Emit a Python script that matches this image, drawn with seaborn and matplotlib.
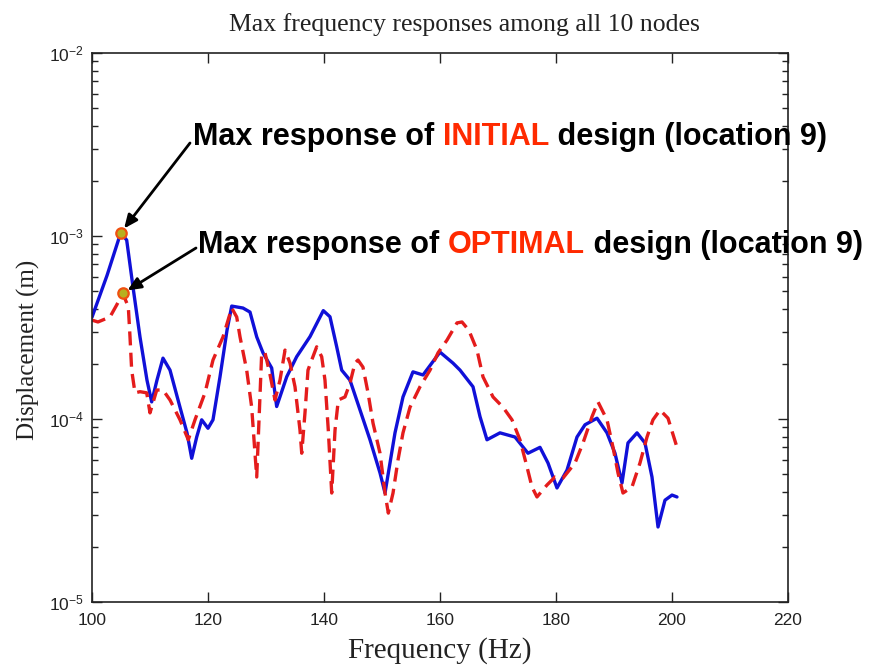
import numpy as np
import pandas as pd
import matplotlib
matplotlib.use("Agg")
import matplotlib.pyplot as plt
import matplotlib.ticker as mticker
import seaborn as sns

# Frequency response envelopes (max over the 10 nodes)
freq_initial = [100.0, 102.6, 104.95, 105.98, 107.07, 108.28, 109.48, 110.29, 111.2, 112.24,
                113.45, 115.17, 116.38, 117.19, 118.05, 118.91, 120.0, 120.86, 122.07, 123.28,
                124.09, 126.03, 127.24, 128.40, 129.48, 130.98, 131.84, 133.57, 135.29, 137.59,
                139.88, 141.03, 142.19, 143.05, 144.48, 146.21, 147.93, 149.66, 150.52, 152.24,
                153.62, 155.34, 157.07, 160.0, 162.24, 163.45, 165.69, 166.90, 168.10, 170.34,
                172.93, 175.17, 177.24, 178.62, 180.17, 181.90, 183.62, 185.0, 187.07, 188.79,
                190.17, 191.38, 192.41, 193.97, 195.34, 196.55, 197.59, 198.79, 200.0, 200.86]
disp_initial = [3.6e-4, 6.1e-4, 1.04e-3, 9.5e-4, 5.26e-4, 2.80e-4, 1.63e-4, 1.24e-4, 1.63e-4, 2.15e-4,
                1.85e-4, 1.16e-4, 8.4e-5, 6.1e-5, 7.97e-5, 9.9e-5, 8.9e-5, 9.9e-5, 1.70e-4, 3.06e-4,
                4.14e-4, 4.04e-4, 3.84e-4, 2.81e-4, 2.30e-4, 1.90e-4, 1.17e-4, 1.70e-4, 2.19e-4, 2.82e-4,
                3.91e-4, 3.62e-4, 2.48e-4, 1.85e-4, 1.63e-4, 1.12e-4, 7.7e-5, 5.07e-5, 3.94e-5, 8.4e-5,
                1.32e-4, 1.81e-4, 1.74e-4, 2.32e-4, 2.02e-4, 1.85e-4, 1.50e-4, 1.03e-4, 7.7e-5, 8.4e-5,
                7.97e-5, 6.5e-5, 7.0e-5, 5.75e-5, 4.2e-5, 5.26e-5, 7.97e-5, 9.3e-5, 1.01e-4, 8.4e-5,
                6.5e-5, 4.47e-5, 7.4e-5, 8.4e-5, 7.4e-5, 4.82e-5, 2.57e-5, 3.6e-5, 3.84e-5, 3.75e-5]

freq_optimal = [100.0, 101.03, 103.10, 104.26, 105.29, 106.26, 106.55, 106.84, 107.41, 108.28,
                109.43, 110.0, 111.16, 112.24, 113.45, 115.17, 116.60, 117.76, 119.48, 120.86,
                122.59, 124.09, 124.95, 125.52, 126.67, 127.53, 128.10, 128.40, 129.26, 129.83,
                130.69, 131.55, 132.41, 133.28, 134.14, 135.0, 135.86, 136.16, 136.72, 137.24,
                137.88, 138.74, 139.60, 140.17, 140.74, 141.33, 141.90, 142.47, 143.62, 144.48,
                145.34, 145.86, 146.72, 147.59, 148.45, 149.66, 150.52, 151.09, 151.90, 152.76,
                153.62, 154.83, 156.55, 158.28, 159.66, 161.21, 162.93, 163.79, 164.66, 165.17,
                166.38, 167.41, 169.14, 170.86, 172.41, 173.79, 175.0, 175.86, 176.72, 178.45,
                179.83, 181.21, 183.28, 184.66, 186.21, 187.24, 188.79, 189.83, 190.69, 191.55,
                193.10, 194.48, 195.69, 196.72, 197.93, 199.31, 200.86]
disp_optimal = [3.47e-4, 3.39e-4, 3.61e-4, 4.20e-4, 4.86e-4, 4.11e-4, 2.82e-4, 1.85e-4, 1.39e-4, 1.41e-4,
                1.39e-4, 1.08e-4, 1.44e-4, 1.44e-4, 1.27e-4, 9.9e-5, 7.7e-5, 9.9e-5, 1.39e-4, 2.10e-4,
                2.81e-4, 4.04e-4, 3.61e-4, 2.81e-4, 1.85e-4, 1.16e-4, 6.5e-5, 4.82e-5, 2.30e-4, 2.30e-4,
                1.75e-4, 1.27e-4, 1.63e-4, 2.38e-4, 2.02e-4, 1.50e-4, 8.7e-5, 6.5e-5, 1.08e-4, 1.85e-4,
                2.10e-4, 2.48e-4, 2.19e-4, 1.63e-4, 8.7e-5, 3.94e-5, 8.7e-5, 1.27e-4, 1.32e-4, 1.57e-4,
                2.02e-4, 2.10e-4, 1.92e-4, 1.39e-4, 9.5e-5, 6.5e-5, 3.94e-5, 3.06e-5, 3.94e-5, 5.97e-5,
                8.4e-5, 1.16e-4, 1.50e-4, 1.85e-4, 2.30e-4, 2.70e-4, 3.35e-4, 3.39e-4, 3.14e-4, 2.95e-4,
                2.38e-4, 1.70e-4, 1.32e-4, 1.16e-4, 9.9e-5, 7.7e-5, 5.47e-5, 4.25e-5, 3.75e-5, 4.36e-5,
                4.82e-5, 4.76e-5, 5.75e-5, 7.4e-5, 1.03e-4, 1.24e-4, 9.9e-5, 7.0e-5, 5.07e-5, 3.94e-5,
                4.25e-5, 5.75e-5, 7.97e-5, 9.9e-5, 1.12e-4, 1.01e-4, 7.0e-5]

title_text = "Max frequency responses among all 10 nodes"
xlabel_text = "Frequency (Hz)"
ylabel_text = "Displacement (m)"
note_initial = ("Max response of ", "INITIAL", " design (location 9)")
note_optimal = ("Max response of ", "OPTIMAL", " design (location 9)")

sns.set_style("white")
plt.rcParams["font.family"] = ["Liberation Sans", "DejaVu Sans"]
plt.rcParams["mathtext.fontset"] = "custom"
plt.rcParams["mathtext.rm"] = "Liberation Sans"
plt.rcParams["mathtext.default"] = "regular"

W, H = 872, 669
fig = plt.figure(figsize=(W / 100, H / 100), dpi=100)
ax = fig.add_axes([92 / W, 1 - 602 / H, (788 - 92) / W, (602 - 53) / H])

blue = "#1010d8"
red = "#e41c1c"
ink = "#222222"

df_i = pd.DataFrame({"f": freq_initial, "d": disp_initial})
df_o = pd.DataFrame({"f": freq_optimal, "d": disp_optimal})
sns.lineplot(data=df_i, x="f", y="d", ax=ax, color=blue, linewidth=2.4,
             estimator=None, sort=False)
sns.lineplot(data=df_o, x="f", y="d", ax=ax, color=red, linewidth=2.4,
             estimator=None, sort=False, linestyle=(0, (4.2, 2.2)))

ax.set_yscale("log")
ax.set_xlim(100, 220)
ax.set_ylim(1e-5, 1e-2)
ax.set_xticks(np.arange(100, 221, 20))
ax.yaxis.set_major_locator(mticker.LogLocator(base=10, numticks=10))
ax.yaxis.set_minor_locator(mticker.LogLocator(base=10, subs=np.arange(2, 10), numticks=20))
ax.yaxis.set_major_formatter(mticker.LogFormatterSciNotation())
ax.yaxis.set_minor_formatter(mticker.NullFormatter())
ax.tick_params(which="both", direction="in", left=True, bottom=True, top=True, right=True,
               color=ink, labelsize=12.5, labelcolor=ink)
ax.tick_params(axis="x", pad=8)
ax.tick_params(axis="y", pad=6)
ax.tick_params(which="major", length=7, width=1)
ax.tick_params(which="minor", length=4, width=1)
for s in ax.spines.values():
    s.set_color(ink)
    s.set_linewidth(1.2)
ax.set_xlabel(xlabel_text, family="Liberation Serif", fontsize=21, color=ink)
ax.xaxis.set_label_coords(0.5, -0.064)
ax.set_ylabel(ylabel_text, family="Liberation Serif", fontsize=18, color=ink)
ax.yaxis.set_label_coords(-0.075, 0.46)
ax.set_title(title_text, family="Liberation Serif", fontsize=18.5, color=ink,
             x=0.535, y=1.0, pad=16)

# Peak markers taken from each series
for fr, dp in ((freq_initial, disp_initial), (freq_optimal, disp_optimal)):
    k = int(np.argmax(dp))
    ax.plot(fr[k], dp[k], "o", ms=7.5, mfc="#b8b020", mec="#f05010", mew=1.6, zorder=5)

k_i = int(np.argmax(disp_initial))
k_o = int(np.argmax(disp_optimal))


def coloured_line(x_px, y_px, parts):
    """Write a bold line whose middle word is highlighted in red."""
    colors = ["black", "#ff2a00", "black"]
    t = fig.text(x_px / W, 1 - y_px / H, parts[0], color=colors[0], fontsize=22,
                 fontweight="bold", va="bottom")
    first = t
    for s, c in zip(parts[1:], colors[1:]):
        t = ax.annotate(s, xy=(1, 0), xycoords=t, va="bottom", color=c,
                        fontsize=22, fontweight="bold", annotation_clip=False)
    return first


coloured_line(193, 152, note_initial)
coloured_line(198, 260, note_optimal)

arrow = dict(arrowstyle="-|>,head_length=0.8,head_width=0.35", color="black", lw=2.0,
             shrinkA=0, shrinkB=4)
ax.annotate("", xy=(freq_initial[k_i], disp_initial[k_i]), xytext=(190 / W, 1 - 143 / H),
            textcoords="figure fraction", arrowprops=arrow, annotation_clip=False)
ax.annotate("", xy=(freq_optimal[k_o], disp_optimal[k_o]), xytext=(196 / W, 1 - 248 / H),
            textcoords="figure fraction", arrowprops=arrow, annotation_clip=False)

fig.savefig("out.png", dpi=100)
